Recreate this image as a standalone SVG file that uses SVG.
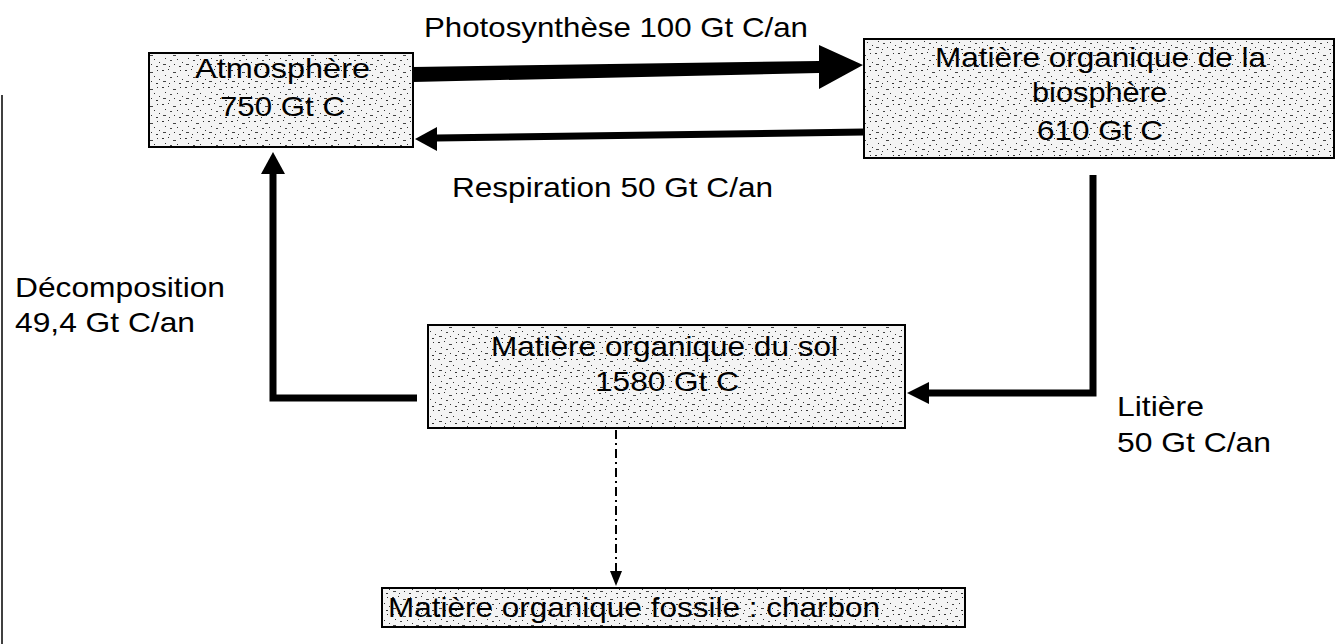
<svg xmlns="http://www.w3.org/2000/svg" width="1344" height="644" viewBox="0 0 1344 644">
<defs>
<pattern id="stip" width="23" height="17" patternUnits="userSpaceOnUse">
<rect width="23" height="17" fill="#f4f4f4"/>
<rect x="1" y="2" width="2" height="1" fill="#333"/>
<rect x="7" y="1" width="1" height="1" fill="#333"/>
<rect x="12" y="4" width="3" height="1" fill="#444"/>
<rect x="19" y="2" width="1" height="1" fill="#333"/>
<rect x="4" y="7" width="1" height="1" fill="#333"/>
<rect x="9" y="9" width="2" height="1" fill="#444"/>
<rect x="16" y="8" width="1" height="1" fill="#333"/>
<rect x="21" y="11" width="1" height="1" fill="#333"/>
<rect x="2" y="13" width="3" height="1" fill="#444"/>
<rect x="13" y="13" width="1" height="1" fill="#333"/>
<rect x="18" y="15" width="2" height="1" fill="#333"/>
<rect x="8" y="15" width="1" height="1" fill="#333"/>
</pattern>
<style>
.box{fill:url(#stip);stroke:#000;stroke-width:2}
.t{font-family:"Liberation Sans",Arial,sans-serif;fill:#000;font-size:28px}
.ln{fill:none;stroke:#000;stroke-linejoin:miter}
.hd{fill:#000}
</style>
</defs>
<rect width="1344" height="644" fill="#fff"/>
<line x1="2" y1="95" x2="2" y2="644" stroke="#000" stroke-width="1.5"/>

<g id="connectors">
<polygon class="hd" points="413,67 819,61 819,45 863,65 819,89 819,73 413,82"/>
<line class="ln" x1="864" y1="132" x2="436" y2="138" stroke-width="7"/>
<polygon class="hd" points="415,139 437,127 437,151"/>
<polyline class="ln" points="417,398 273,398 273,172" stroke-width="7"/>
<polygon class="hd" points="273,152 261,174 285,174"/>
<polyline class="ln" points="1093,175 1093,393 928,393" stroke-width="7"/>
<polygon class="hd" points="907,393 929,382 929,404"/>
<line class="ln" x1="616" y1="430" x2="616" y2="574" stroke-width="2" stroke-dasharray="9 4 2 4"/>
<polygon class="hd" points="616,586 610,571 622,571"/>
</g>

<g id="atmosphere">
<rect class="box" x="149" y="53" width="264" height="94"/>
<text class="t" x="195" y="78" textLength="175" lengthAdjust="spacingAndGlyphs">Atmosphère</text>
<text class="t" x="220" y="116" textLength="125" lengthAdjust="spacingAndGlyphs">750 Gt C</text>
</g>

<g id="biosphere">
<rect class="box" x="864" y="39" width="470" height="119"/>
<text class="t" x="935" y="67" textLength="331" lengthAdjust="spacingAndGlyphs">Matière organique de la</text>
<text class="t" x="1032" y="102" textLength="135" lengthAdjust="spacingAndGlyphs">biosphère</text>
<text class="t" x="1037" y="140" textLength="126" lengthAdjust="spacingAndGlyphs">610 Gt C</text>
</g>

<g id="sol">
<rect class="box" x="428" y="325" width="477" height="103"/>
<text class="t" x="491" y="356" textLength="347" lengthAdjust="spacingAndGlyphs">Matière organique du sol</text>
<text class="t" x="595" y="391" textLength="144" lengthAdjust="spacingAndGlyphs">1580 Gt C</text>
</g>

<g id="fossile">
<rect class="box" x="382" y="588" width="583" height="39"/>
<text class="t" x="388" y="617" textLength="492" lengthAdjust="spacingAndGlyphs">Matière organique fossile : charbon</text>
</g>

<g id="labels">
<text class="t" x="424" y="37" textLength="384" lengthAdjust="spacingAndGlyphs">Photosynthèse 100 Gt C/an</text>
<text class="t" x="452" y="197" textLength="321" lengthAdjust="spacingAndGlyphs">Respiration 50 Gt C/an</text>
<text class="t" x="15" y="297" textLength="210" lengthAdjust="spacingAndGlyphs">Décomposition</text>
<text class="t" x="15" y="332" textLength="180" lengthAdjust="spacingAndGlyphs">49,4 Gt C/an</text>
<text class="t" x="1117" y="416" textLength="87" lengthAdjust="spacingAndGlyphs">Litière</text>
<text class="t" x="1117" y="452" textLength="154" lengthAdjust="spacingAndGlyphs">50 Gt C/an</text>
</g>
</svg>
